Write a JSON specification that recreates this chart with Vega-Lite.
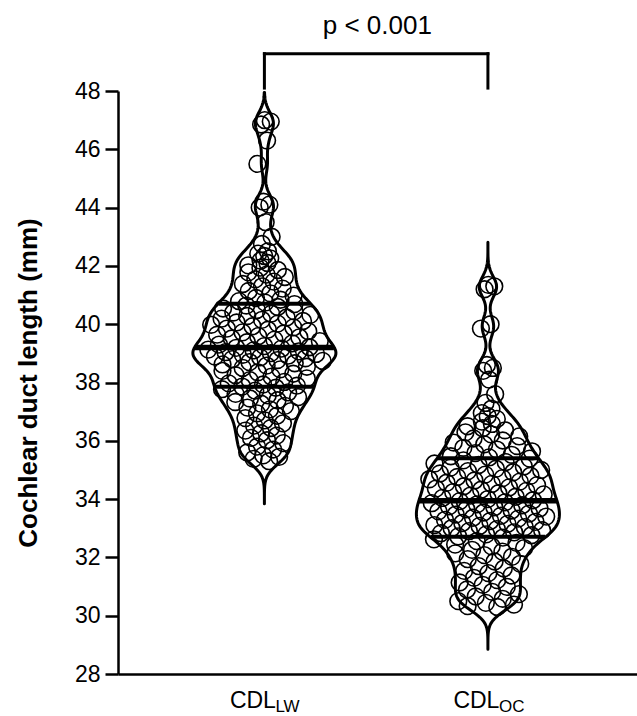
{
  "$schema": "https://vega.github.io/schema/vega-lite/v6.json",
  "width": 519,
  "height": 583,
  "autosize": {"type": "none"},
  "padding": {"left": 118, "top": 91, "right": 0, "bottom": 42},
  "config": {
    "view": {"stroke": null},
    "font": "Liberation Sans",
    "axis": {"domainColor": "black", "tickColor": "black", "labelColor": "black", "titleColor": "black", "labelFont": "Liberation Sans", "titleFont": "Liberation Sans", "grid": false}
  },
  "data": {"values": [
    {"g":"LW","v":47.0},{"g":"LW","v":46.95},{"g":"LW","v":46.85},{"g":"LW","v":46.3},{"g":"LW","v":45.5},{"g":"LW","v":44.2},{"g":"LW","v":44.1},{"g":"LW","v":44.0},{"g":"LW","v":43.5},{"g":"LW","v":43.0},{"g":"LW","v":42.75},
    {"g":"LW","v":42.5},{"g":"LW","v":42.42},{"g":"LW","v":42.34},{"g":"LW","v":42.26},{"g":"LW","v":42.18},{"g":"LW","v":42.1},{"g":"LW","v":42.02},{"g":"LW","v":41.94},{"g":"LW","v":41.86},{"g":"LW","v":41.78},
    {"g":"LW","v":41.7},{"g":"LW","v":41.62},{"g":"LW","v":41.54},{"g":"LW","v":41.46},{"g":"LW","v":41.38},{"g":"LW","v":41.3},{"g":"LW","v":41.22},{"g":"LW","v":41.14},{"g":"LW","v":41.06},{"g":"LW","v":40.98},
    {"g":"LW","v":40.9},{"g":"LW","v":40.84},{"g":"LW","v":40.79},{"g":"LW","v":40.74},
    {"g":"LW","v":40.69},{"g":"LW","v":40.64},{"g":"LW","v":40.59},{"g":"LW","v":40.54},{"g":"LW","v":40.49},{"g":"LW","v":40.44},{"g":"LW","v":40.4},{"g":"LW","v":40.36},
    {"g":"LW","v":40.32},{"g":"LW","v":40.28},{"g":"LW","v":40.23},{"g":"LW","v":40.19},{"g":"LW","v":40.15},{"g":"LW","v":40.11},{"g":"LW","v":40.06},{"g":"LW","v":40.02},{"g":"LW","v":39.98},{"g":"LW","v":39.93},
    {"g":"LW","v":39.89},{"g":"LW","v":39.85},{"g":"LW","v":39.81},{"g":"LW","v":39.76},{"g":"LW","v":39.72},{"g":"LW","v":39.68},{"g":"LW","v":39.64},{"g":"LW","v":39.59},{"g":"LW","v":39.55},{"g":"LW","v":39.51},
    {"g":"LW","v":39.47},{"g":"LW","v":39.42},{"g":"LW","v":39.38},{"g":"LW","v":39.34},{"g":"LW","v":39.3},{"g":"LW","v":39.25},{"g":"LW","v":39.21},
    {"g":"LW","v":39.19},{"g":"LW","v":39.16},{"g":"LW","v":39.13},{"g":"LW","v":39.1},{"g":"LW","v":39.07},{"g":"LW","v":39.04},{"g":"LW","v":39.01},{"g":"LW","v":38.98},{"g":"LW","v":38.95},{"g":"LW","v":38.92},
    {"g":"LW","v":38.89},{"g":"LW","v":38.86},{"g":"LW","v":38.83},{"g":"LW","v":38.8},{"g":"LW","v":38.77},{"g":"LW","v":38.74},{"g":"LW","v":38.7},{"g":"LW","v":38.66},{"g":"LW","v":38.62},{"g":"LW","v":38.58},
    {"g":"LW","v":38.54},{"g":"LW","v":38.5},{"g":"LW","v":38.45},{"g":"LW","v":38.4},{"g":"LW","v":38.35},{"g":"LW","v":38.3},{"g":"LW","v":38.25},{"g":"LW","v":38.2},{"g":"LW","v":38.14},{"g":"LW","v":38.08},
    {"g":"LW","v":38.02},{"g":"LW","v":37.97},{"g":"LW","v":37.93},{"g":"LW","v":37.89},{"g":"LW","v":37.86},
    {"g":"LW","v":37.82},{"g":"LW","v":37.77},{"g":"LW","v":37.72},{"g":"LW","v":37.66},{"g":"LW","v":37.61},{"g":"LW","v":37.56},{"g":"LW","v":37.5},{"g":"LW","v":37.45},{"g":"LW","v":37.39},{"g":"LW","v":37.33},
    {"g":"LW","v":37.27},{"g":"LW","v":37.2},{"g":"LW","v":37.14},{"g":"LW","v":37.08},{"g":"LW","v":37.02},
    {"g":"LW","v":36.94},{"g":"LW","v":36.86},{"g":"LW","v":36.78},{"g":"LW","v":36.7},{"g":"LW","v":36.6},{"g":"LW","v":36.52},{"g":"LW","v":36.44},{"g":"LW","v":36.35},{"g":"LW","v":36.26},{"g":"LW","v":36.18},
    {"g":"LW","v":36.1},{"g":"LW","v":36.02},
    {"g":"LW","v":35.92},{"g":"LW","v":35.8},{"g":"LW","v":35.7},{"g":"LW","v":35.6},{"g":"LW","v":35.5},{"g":"LW","v":35.45},{"g":"LW","v":35.38},{"g":"LW","v":35.3},
    {"g":"OC","v":41.35},{"g":"OC","v":41.3},{"g":"OC","v":41.2},{"g":"OC","v":40.0},{"g":"OC","v":39.85},{"g":"OC","v":38.6},{"g":"OC","v":38.5},{"g":"OC","v":38.4},{"g":"OC","v":38.1},{"g":"OC","v":37.6},{"g":"OC","v":37.3},
    {"g":"OC","v":37.1},{"g":"OC","v":36.95},{"g":"OC","v":36.85},{"g":"OC","v":36.75},{"g":"OC","v":36.66},{"g":"OC","v":36.58},{"g":"OC","v":36.5},{"g":"OC","v":36.43},{"g":"OC","v":36.36},{"g":"OC","v":36.29},
    {"g":"OC","v":36.22},{"g":"OC","v":36.15},{"g":"OC","v":36.08},{"g":"OC","v":36.01},{"g":"OC","v":35.94},{"g":"OC","v":35.88},{"g":"OC","v":35.82},{"g":"OC","v":35.76},{"g":"OC","v":35.7},{"g":"OC","v":35.64},
    {"g":"OC","v":35.58},{"g":"OC","v":35.52},{"g":"OC","v":35.47},{"g":"OC","v":35.43},
    {"g":"OC","v":35.39},{"g":"OC","v":35.33},{"g":"OC","v":35.27},{"g":"OC","v":35.22},{"g":"OC","v":35.17},
    {"g":"OC","v":35.12},{"g":"OC","v":35.08},{"g":"OC","v":35.04},{"g":"OC","v":35.0},{"g":"OC","v":34.96},{"g":"OC","v":34.92},{"g":"OC","v":34.88},{"g":"OC","v":34.84},{"g":"OC","v":34.8},{"g":"OC","v":34.76},
    {"g":"OC","v":34.72},{"g":"OC","v":34.68},{"g":"OC","v":34.64},{"g":"OC","v":34.6},{"g":"OC","v":34.56},{"g":"OC","v":34.52},{"g":"OC","v":34.48},{"g":"OC","v":34.44},{"g":"OC","v":34.4},{"g":"OC","v":34.36},
    {"g":"OC","v":34.32},{"g":"OC","v":34.28},{"g":"OC","v":34.24},{"g":"OC","v":34.2},{"g":"OC","v":34.16},{"g":"OC","v":34.12},{"g":"OC","v":34.08},{"g":"OC","v":34.04},{"g":"OC","v":34.0},{"g":"OC","v":33.96},
    {"g":"OC","v":33.93},{"g":"OC","v":33.89},{"g":"OC","v":33.86},{"g":"OC","v":33.82},{"g":"OC","v":33.79},{"g":"OC","v":33.75},{"g":"OC","v":33.72},{"g":"OC","v":33.68},{"g":"OC","v":33.65},{"g":"OC","v":33.61},
    {"g":"OC","v":33.58},{"g":"OC","v":33.54},{"g":"OC","v":33.5},{"g":"OC","v":33.47},{"g":"OC","v":33.43},{"g":"OC","v":33.4},{"g":"OC","v":33.36},{"g":"OC","v":33.33},{"g":"OC","v":33.29},{"g":"OC","v":33.25},
    {"g":"OC","v":33.22},{"g":"OC","v":33.18},{"g":"OC","v":33.15},{"g":"OC","v":33.11},{"g":"OC","v":33.08},{"g":"OC","v":33.04},{"g":"OC","v":33.0},{"g":"OC","v":32.97},{"g":"OC","v":32.93},{"g":"OC","v":32.9},
    {"g":"OC","v":32.86},{"g":"OC","v":32.83},{"g":"OC","v":32.79},{"g":"OC","v":32.76},{"g":"OC","v":32.72},
    {"g":"OC","v":32.68},{"g":"OC","v":32.62},{"g":"OC","v":32.56},{"g":"OC","v":32.5},{"g":"OC","v":32.44},{"g":"OC","v":32.38},{"g":"OC","v":32.32},{"g":"OC","v":32.26},{"g":"OC","v":32.2},{"g":"OC","v":32.14},
    {"g":"OC","v":32.08},{"g":"OC","v":32.02},
    {"g":"OC","v":31.94},{"g":"OC","v":31.86},{"g":"OC","v":31.78},{"g":"OC","v":31.7},{"g":"OC","v":31.62},{"g":"OC","v":31.54},{"g":"OC","v":31.46},{"g":"OC","v":31.38},{"g":"OC","v":31.3},{"g":"OC","v":31.22},
    {"g":"OC","v":31.14},{"g":"OC","v":31.06},{"g":"OC","v":30.99},
    {"g":"OC","v":30.9},{"g":"OC","v":30.82},{"g":"OC","v":30.74},{"g":"OC","v":30.66},{"g":"OC","v":30.58},{"g":"OC","v":30.5},{"g":"OC","v":30.44},{"g":"OC","v":30.38},{"g":"OC","v":30.33},{"g":"OC","v":30.3}
  ]},
  "layer": [
    {
      "transform": [
        {"joinaggregate": [{"op": "min", "field": "v", "as": "mn"}, {"op": "max", "field": "v", "as": "mx"}], "groupby": ["g"]},
        {"density": "v", "groupby": ["g", "mn", "mx"], "bandwidth": 0.35, "extent": [28.5, 48.5], "steps": 401},
        {"filter": "datum.value >= datum.mn - 1.5 && datum.value <= min(datum.mx + 1.5, 48.001)"},
        {"joinaggregate": [{"op": "max", "field": "density", "as": "dmax"}], "groupby": ["g"]},
        {"calculate": "datum.g === 'LW' ? 0 : 1", "as": "idx"},
        {"calculate": "datum.idx - 0.32 * datum.density / datum.dmax", "as": "lo"},
        {"calculate": "datum.idx + 0.32 * datum.density / datum.dmax", "as": "hi"}
      ],
      "mark": {"type": "area", "orient": "horizontal", "fill": "white", "stroke": "black", "strokeWidth": 3, "strokeJoin": "round"},
      "encoding": {
        "y": {
          "field": "value", "type": "quantitative",
          "scale": {"domain": [28, 48], "nice": false, "zero": false},
          "axis": {
            "title": "Cochlear duct length (mm)",
            "values": [28,29,30,31,32,33,34,35,36,37,38,39,40,41,42,43,44,45,46,47,48],
            "labelExpr": "datum.value % 2 === 0 ? datum.label : ''",
            "tickSize": {"condition": {"test": "datum.value % 2 === 0", "value": 13}, "value": 7},
            "tickWidth": 2.5, "domainWidth": 2.5,
            "labelFontSize": 23, "labelPadding": 5,
            "titleFontSize": 26, "titleFontWeight": "bold", "titlePadding": 33
          }
        },
        "x": {
          "field": "lo", "type": "quantitative",
          "scale": {"domain": [-0.655, 1.667], "nice": false, "zero": false},
          "axis": {
            "title": null, "values": [0, 1], "labelExpr": "'CDL'",
            "ticks": false, "tickSize": 0, "domainWidth": 2.5,
            "labelAlign": "right", "labelOffset": 11, "labelBaseline": "alphabetic",
            "labelPadding": 33, "labelFontSize": 23
          }
        },
        "x2": {"field": "hi"},
        "detail": {"field": "g"}
      }
    },
    {
      "transform": [
        {"calculate": "datum.g === 'LW' ? 0 : 1", "as": "idx"},
        {"window": [{"op": "row_number", "as": "rn"}, {"op": "min", "field": "v", "as": "lmin"}, {"op": "max", "field": "v", "as": "lmax"}, {"op": "count", "as": "cnt"}], "frame": [-8, 8], "groupby": ["g"], "sort": [{"field": "v", "order": "ascending"}]},
        {"calculate": "(datum.cnt - 1) / max(datum.lmax - datum.lmin, 0.15)", "as": "ld"},
        {"joinaggregate": [{"op": "max", "field": "ld", "as": "ldm"}], "groupby": ["g"]},
        {"calculate": "0.31 * min(1, datum.ld / (0.75 * datum.ldm))", "as": "w"},
        {"calculate": "datum.idx + (((datum.rn * 0.6180339887) % 1) - 0.5) * 2 * max(datum.w - 0.045, 0.035)", "as": "px"}
      ],
      "mark": {"type": "point", "shape": "circle", "filled": false, "stroke": "black", "strokeWidth": 1.6, "size": 280, "opacity": 1},
      "encoding": {
        "x": {"field": "px", "type": "quantitative"},
        "y": {"field": "v", "type": "quantitative"}
      }
    },
    {
      "transform": [
        {"joinaggregate": [{"op": "q1", "field": "v", "as": "q1"}, {"op": "median", "field": "v", "as": "med"}, {"op": "q3", "field": "v", "as": "q3"}], "groupby": ["g"]},
        {"density": "v", "groupby": ["g", "q1", "med", "q3"], "bandwidth": 0.35, "extent": [28.5, 48.5], "steps": 401},
        {"joinaggregate": [{"op": "max", "field": "density", "as": "dmax"}], "groupby": ["g"]},
        {"fold": ["q1", "med", "q3"], "as": ["qk", "qv"]},
        {"calculate": "abs(datum.value - datum.qv)", "as": "dd"},
        {"window": [{"op": "rank", "as": "rk"}], "groupby": ["g", "qk"], "sort": [{"field": "dd", "order": "ascending"}]},
        {"filter": "datum.rk === 1"},
        {"calculate": "datum.g === 'LW' ? 0 : 1", "as": "idx"},
        {"calculate": "datum.idx - 0.32 * datum.density / datum.dmax", "as": "lo"},
        {"calculate": "datum.idx + 0.32 * datum.density / datum.dmax", "as": "hi"}
      ],
      "mark": {"type": "rule", "color": "black", "strokeCap": "butt"},
      "encoding": {
        "x": {"field": "lo", "type": "quantitative"},
        "x2": {"field": "hi"},
        "y": {"field": "qv", "type": "quantitative"},
        "strokeWidth": {"condition": {"test": "datum.qk === 'med'", "value": 5.5}, "value": 4}
      }
    },
    {
      "data": {"values": [{}]},
      "mark": {"type": "rule", "color": "black", "strokeWidth": 3, "strokeCap": "square"},
      "encoding": {
        "x": {"datum": 0, "type": "quantitative"},
        "x2": {"datum": 1},
        "y": {"datum": 49.28, "type": "quantitative"}
      }
    },
    {
      "data": {"values": [{}]},
      "mark": {"type": "rule", "color": "black", "strokeWidth": 3, "strokeCap": "square"},
      "encoding": {
        "x": {"datum": 0, "type": "quantitative"},
        "y": {"datum": 48.1, "type": "quantitative"},
        "y2": {"datum": 49.28}
      }
    },
    {
      "data": {"values": [{}]},
      "mark": {"type": "rule", "color": "black", "strokeWidth": 3, "strokeCap": "square"},
      "encoding": {
        "x": {"datum": 1, "type": "quantitative"},
        "y": {"datum": 48.1, "type": "quantitative"},
        "y2": {"datum": 49.28}
      }
    },
    {
      "data": {"values": [{}]},
      "mark": {"type": "text", "text": "p < 0.001", "fontSize": 26, "font": "Liberation Sans", "baseline": "alphabetic", "align": "center", "color": "black"},
      "encoding": {
        "x": {"datum": 0.505, "type": "quantitative"},
        "y": {"datum": 49.96, "type": "quantitative"}
      }
    },
    {
      "data": {"values": [{"g": "LW"}, {"g": "OC"}]},
      "transform": [{"calculate": "datum.g === 'LW' ? 0 : 1", "as": "idx"}],
      "mark": {"type": "text", "align": "left", "baseline": "alphabetic", "fontSize": 17, "font": "Liberation Sans", "dx": 11, "dy": 38, "color": "black"},
      "encoding": {
        "x": {"field": "idx", "type": "quantitative"},
        "y": {"datum": 28, "type": "quantitative"},
        "text": {"field": "g"}
      }
    }
  ]
}
